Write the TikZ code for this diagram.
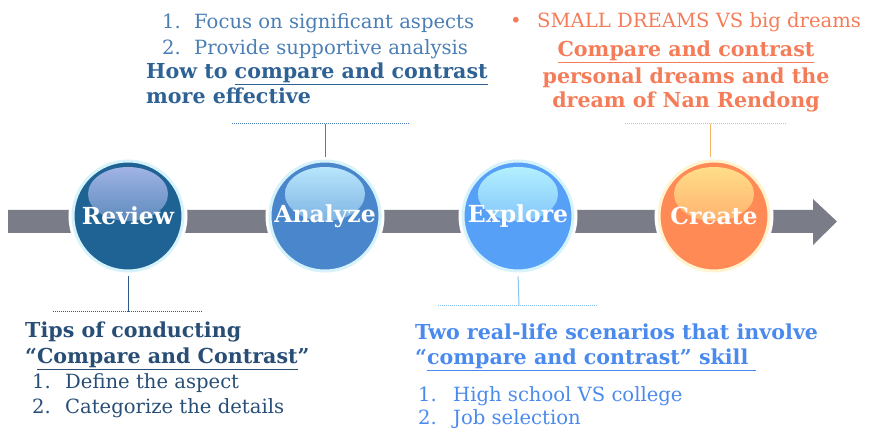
\documentclass[tikz,border=0pt]{standalone}
\usepackage{fontspec}
\setmainfont{DejaVu Serif}
\definecolor{barc}{HTML}{7A7D88}
\definecolor{revc}{HTML}{1F6395}
\definecolor{revh}{HTML}{A8B8EA}
\definecolor{anac}{HTML}{4A86CB}
\definecolor{anah}{HTML}{BEEBFF}
\definecolor{expc}{HTML}{57A0F8}
\definecolor{exph}{HTML}{B8F4FF}
\definecolor{crec}{HTML}{FF8A55}
\definecolor{creh}{HTML}{FFE28C}
\definecolor{rimb}{HTML}{D6F3FB}
\definecolor{rimo}{HTML}{FFF4CF}
\definecolor{revt}{HTML}{284E76}
\definecolor{anat}{HTML}{4A7EB5}
\definecolor{anatb}{HTML}{2F6294}
\definecolor{expt}{HTML}{4A8AEE}
\definecolor{cret}{HTML}{F47C58}
\definecolor{revl}{HTML}{2E5C8A}
\definecolor{expl}{HTML}{86C2F2}
\definecolor{crel}{HTML}{F5B466}
\tikzset{
  ball/.style={circle, minimum size=110pt, inner sep=0pt, line width=3pt,
    preaction={draw=white, line width=9pt},
    font=\bfseries\fontsize{23.5}{24}\selectfont, text=white},
  txt/.style={inner sep=0pt, anchor=base west},
  ctxt/.style={inner sep=0pt, anchor=base},
  bfs/.style={font=\bfseries\fontsize{20.6}{22}\selectfont},
  nfs/.style={font=\fontsize{19.6}{22}\selectfont},
  dots/.style={line width=1pt, dash pattern=on 0.8pt off 1.2pt},
  stem/.style={line width=1pt}
}
\newcommand\mkball[6]{%
  \node[ball, fill=#3, draw=#5,
    path picture={\shade[top color=#4, middle color=#4!45!#3, bottom color=#3]
      ([yshift=22pt]path picture bounding box.center) ellipse (40pt and 27pt);}]
    (#1) at (#2,216) {#6};}
\begin{document}
\begin{tikzpicture}[x=1pt,y=-1pt]
\useasboundingbox (0,0) rectangle (871,430);
% main arrow
\fill[barc] (8,210) -- (813,210) -- (813,199) -- (837,221.5) -- (813,245) -- (813,233) -- (8,233) -- cycle;
% balls
\mkball{rev}{128}{revc}{revh}{rimb}{Review}
\mkball{ana}{325}{anac}{anah}{rimb}{Analyze}
\mkball{exp}{518}{expc}{exph}{rimb}{Explore}
\mkball{cre}{714}{crec}{creh}{rimo}{Create}
% connectors
\coordinate (revd) at (128,312);
\coordinate (revdl) at (53,312);
\coordinate (revdr) at (202,312);
\draw[stem, revl, shorten <=4pt] (rev.south) -- (revd);
\draw[dots, revl] (revdl) -- (revdr);
\coordinate (anad) at (325,124);
\coordinate (anadl) at (232,124);
\coordinate (anadr) at (410,124);
\draw[stem, anat, shorten <=2pt] (ana.north) -- (anad);
\draw[dots, anat] (anadl) -- (anadr);
\coordinate (expd) at (519,306);
\coordinate (expdl) at (438,306);
\coordinate (expdr) at (597,306);
\draw[stem, expl, shorten <=4pt] (exp.south) -- (expd);
\draw[dots, expl] (expdl) -- (expdr);
\coordinate (cred) at (710,124);
\coordinate (credl) at (625,124);
\coordinate (credr) at (787,124);
\draw[stem, crel, shorten <=2pt] ([xshift=-4pt]cre.north) -- (cred);
\draw[dots, crel] (credl) -- (credr);
% top-left texts
\node[txt, nfs, text=anat] (a1) at (162,29) {\makebox[32pt][l]{1.}Focus on significant aspects};
\node[txt, nfs, text=anat] (a2) at (162,55) {\makebox[32pt][l]{2.}Provide supportive analysis};
\node[txt, bfs, text=anatb] (a3) at (146,79) {How to \underline{compare and contrast}};
\node[txt, bfs, text=anatb] (a4) at (146,104) {more effective};
% top-right texts
\node[txt, nfs, text=cret] (c0) at (510,28) {•};
\node[txt, nfs, text=cret] (c1) at (537,28) {SMALL DREAMS VS big dreams};
\node[ctxt, bfs, text=cret] (c2) at (686,57) {\underline{Compare and contrast}};
\node[ctxt, bfs, text=cret] (c3) at (686,84) {personal dreams and the};
\node[ctxt, bfs, text=cret] (c4) at (686,108) {dream of Nan Rendong};
% bottom-left texts
\node[txt, bfs, text=revt] (r1) at (25,338) {Tips of conducting};
\node[txt, bfs, text=revt] (r2) at (25,364) {“\underline{Compare and Contrast}”};
\node[txt, nfs, text=revt] (r3) at (32,389) {\makebox[33pt][l]{1.}Define the aspect};
\node[txt, nfs, text=revt] (r4) at (32,414) {\makebox[33pt][l]{2.}Categorize the details};
% bottom-right texts
\node[txt, bfs, text=expt] (e1) at (415,340) {Two real-life scenarios that involve};
\node[txt, bfs, text=expt] (e2) at (415,365) {“\underline{compare and contrast” skill\ }};
\node[txt, nfs, text=expt] (e3) at (418,402) {\makebox[35pt][l]{1.}High school VS college};
\node[txt, nfs, text=expt] (e4) at (418,425) {\makebox[35pt][l]{2.}Job selection};
\end{tikzpicture}
\end{document}
